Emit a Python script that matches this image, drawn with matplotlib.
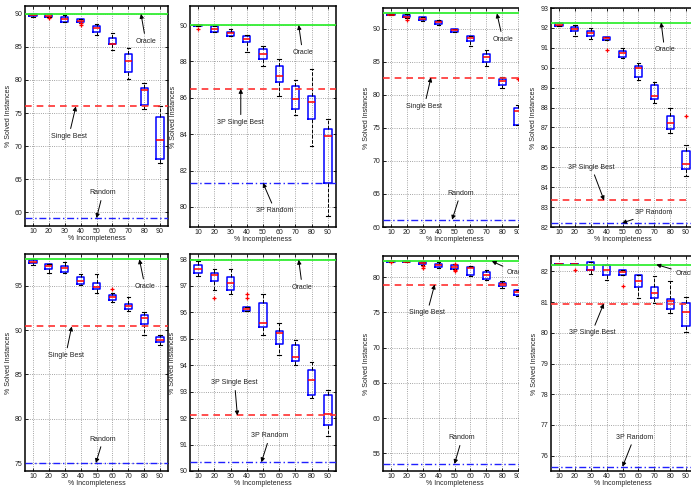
import matplotlib
matplotlib.use("Agg")
import matplotlib.pyplot as plt
from matplotlib.patches import Rectangle

plt.rcParams["font.family"] = ["Liberation Sans", "DejaVu Sans"]

# Size of the canvas in pixels
W, H = 691, 487
FONTSIZE = 5

INCOMPLETENESS = [10, 20, 30, 40, 50, 60, 70, 80, 90]

# Panel 1: full portfolio, first benchmark
p1_lo = [89.6, 89.5, 88.75, 88.7, 86.8, 84.55, 80.2, 75.6, 67.5]
p1_q1 = [89.7, 89.6, 88.85, 88.75, 87.3, 85.4, 81.2, 76.2, 68.0]
p1_med = [89.9, 89.7, 89.25, 88.9, 87.85, 85.5, 82.9, 78.5, 70.9]
p1_q3 = [90.05, 89.95, 89.6, 89.25, 88.2, 86.4, 83.95, 78.75, 74.4]
p1_hi = [90.05, 89.95, 89.8, 89.3, 88.55, 87.15, 84.8, 79.5, 76.0]
p1_fliers = [[], [89.35], [], [88.6, 88.35], [], [], [], [], []]
p1_oracle, p1_best, p1_random = 90.0, 76.0, 59.1

# Panel 2: 3P portfolio, first benchmark
p2_lo = [89.95, 89.6, 89.41, 88.5, 87.77, 86.1, 85.03, 83.38, 79.52]
p2_q1 = [89.95, 89.6, 89.41, 89.05, 88.12, 86.86, 85.39, 84.84, 81.31]
p2_med = [89.98, 89.76, 89.55, 89.23, 88.41, 87.2, 85.94, 85.76, 83.93]
p2_q3 = [90.0, 89.96, 89.62, 89.41, 88.68, 87.77, 86.67, 86.12, 84.3]
p2_hi = [90.0, 89.96, 89.8, 89.45, 88.85, 88.13, 87.0, 87.59, 84.84]
p2_fliers = [[89.76], [], [], [], [], [], [], [], []]
p2_oracle, p2_best, p2_random = 90.0, 86.49, 81.32

# Panel 3: full portfolio, second benchmark
p3_lo = [92.0, 91.6, 91.1, 90.5, 89.4, 87.37, 84.3, 81.07, 75.37]
p3_q1 = [92.0, 91.7, 91.36, 90.75, 89.5, 88.12, 84.95, 81.5, 75.37]
p3_med = [92.1, 91.8, 91.5, 90.95, 89.7, 88.5, 85.7, 82.07, 77.5]
p3_q3 = [92.2, 92.0, 91.7, 91.15, 89.9, 88.84, 86.2, 82.44, 78.05]
p3_hi = [92.25, 92.2, 91.8, 91.3, 90.0, 88.9, 86.7, 82.7, 78.5]
p3_fliers = [[], [91.35], [], [], [], [], [], [], [82.3]]
p3_oracle, p3_best, p3_random = 92.27, 82.59, 61.1

# Panel 4: 3P portfolio, second benchmark
p4_lo = [92.1, 91.6, 91.44, 91.4, 90.48, 89.39, 88.25, 86.7, 84.55]
p4_q1 = [92.1, 91.82, 91.57, 91.4, 90.56, 89.52, 88.43, 86.9, 84.89]
p4_med = [92.17, 91.96, 91.74, 91.47, 90.73, 89.98, 88.6, 87.24, 85.14]
p4_q3 = [92.24, 92.07, 91.86, 91.52, 90.85, 90.1, 89.14, 87.59, 85.83]
p4_hi = [92.24, 92.16, 92.0, 91.55, 90.98, 90.23, 89.3, 88.0, 86.11]
p4_fliers = [[], [], [], [90.9], [], [], [], [], [87.6]]
p4_oracle, p4_best, p4_random = 92.27, 83.34, 82.2

# Panel 5: full portfolio, third benchmark
p5_lo = [97.4, 96.43, 96.5, 95.1, 94.25, 93.16, 92.18, 89.48, 88.28]
p5_q1 = [97.56, 96.88, 96.54, 95.23, 94.63, 93.42, 92.4, 90.72, 88.65]
p5_med = [97.75, 97.3, 97.0, 95.5, 94.93, 93.73, 92.75, 91.36, 88.91]
p5_q3 = [97.93, 97.48, 97.25, 95.98, 95.3, 93.99, 92.97, 91.73, 89.18]
p5_hi = [98.0, 97.5, 97.75, 96.32, 96.3, 94.18, 93.8, 92.0, 89.48]
p5_fliers = [[], [], [], [], [], [94.66], [], [], []]
p5_oracle, p5_best, p5_random = 98.0, 90.42, 75.0

# Panel 6: 3P portfolio, third benchmark
p6_lo = [97.37, 96.84, 96.7, 96.05, 95.14, 94.38, 94.0, 92.76, 91.33]
p6_q1 = [97.47, 97.18, 96.84, 96.05, 95.44, 94.81, 94.15, 92.89, 91.75]
p6_med = [97.65, 97.41, 97.09, 96.13, 95.58, 95.2, 94.31, 93.45, 92.17]
p6_q3 = [97.79, 97.47, 97.34, 96.2, 96.36, 95.29, 94.78, 93.83, 92.89]
p6_hi = [97.94, 97.62, 97.65, 96.2, 96.67, 95.58, 94.95, 94.13, 93.05]
p6_fliers = [[], [96.55], [], [96.67, 96.52], [], [], [], [], []]
p6_oracle, p6_best, p6_random = 97.98, 92.1, 90.33

# Panel 7: full portfolio, fourth benchmark
p7_lo = [82.2, 82.1, 81.75, 81.3, 81.1, 80.18, 79.6, 78.48, 77.3]
p7_q1 = [82.2, 82.1, 81.84, 81.46, 81.22, 80.37, 79.8, 78.77, 77.45]
p7_med = [82.25, 82.17, 82.0, 81.7, 81.46, 81.3, 80.28, 78.98, 77.9]
p7_q3 = [82.3, 82.25, 82.17, 81.93, 81.7, 81.46, 80.75, 79.23, 78.15]
p7_hi = [82.3, 82.3, 82.25, 82.1, 81.8, 81.6, 81.0, 79.47, 78.2]
p7_fliers = [[82.2], [], [81.6, 81.36], [], [81.93, 81.0, 80.85], [], [], [], []]
p7_oracle, p7_best, p7_random = 82.27, 78.95, 53.5

# Panel 8: 3P portfolio, fourth benchmark
p8_lo = [82.23, 82.23, 81.9, 81.72, 81.88, 81.14, 80.96, 80.63, 80.04]
p8_q1 = [82.23, 82.23, 82.04, 81.88, 81.88, 81.5, 81.12, 80.77, 80.23]
p8_med = [82.23, 82.23, 82.04, 82.04, 81.97, 81.68, 81.3, 81.04, 80.67]
p8_q3 = [82.24, 82.24, 82.31, 82.2, 82.04, 81.88, 81.5, 81.1, 80.96]
p8_hi = [82.24, 82.24, 82.31, 82.2, 82.04, 81.88, 81.85, 81.68, 81.15]
p8_fliers = [[], [82.04], [], [], [81.52], [], [], [], []]
p8_oracle, p8_best, p8_random = 82.22, 80.95, 75.64


def rect(left, top, right, bottom):
    # Pixel box -> figure fraction
    return [left / W, 1 - bottom / H, (right - left) / W, (bottom - top) / H]


def draw_panel(ax, lo, q1, med, q3, hi, fliers, oracle, best, random,
               ylim, yticks, prefix, pos_oracle, pos_best, pos_random):
    positions = list(range(1, len(INCOMPLETENESS) + 1))
    stats = []
    for i in range(len(INCOMPLETENESS)):
        stats.append(dict(whislo=lo[i], q1=q1[i], med=med[i], q3=q3[i],
                          whishi=hi[i], fliers=fliers[i]))
    ax.bxp(
        stats,
        positions=positions,
        widths=0.45,
        capwidths=0.22,
        boxprops=dict(color="#0000ff", lw=1.1),
        medianprops=dict(color="#ff0000", lw=1.1),
        whiskerprops=dict(color="black", ls="--", lw=0.7),
        capprops=dict(color="black", lw=0.8),
        flierprops=dict(marker="+", markeredgecolor="#ff0000", ms=3.5, mew=0.9),
    )

    # Reference lines
    ax.axhline(oracle, color="#33ee33", lw=1.3, zorder=3)
    ax.axhline(best, color="#ff3030", lw=1.2, ls=(0, (4, 3)), zorder=3)
    ax.axhline(random, color="#2020ff", lw=1.0, ls=(0, (5, 2, 1, 2)), zorder=3)

    # Labels with arrows
    arrow = dict(arrowstyle="-|>", color="black", lw=0.7, mutation_scale=6,
                 shrinkA=1, shrinkB=0)
    text = dict(fontsize=FONTSIZE, ha="center", va="center", color="#222222")
    for label, value, (xt, yt, xh) in [
        ("Oracle", oracle, pos_oracle),
        (prefix + "Single Best", best, pos_best),
        (prefix + "Random", random, pos_random),
    ]:
        ax.annotate(label, xy=(xh, value), xytext=(xt, yt),
                    arrowprops=arrow, zorder=4, **text)

    ax.set_xlim(0.5, len(INCOMPLETENESS) + 0.5)
    ax.set_xticks(positions)
    ax.set_xticklabels([str(v) for v in INCOMPLETENESS])
    ax.set_ylim(*ylim)
    ax.set_yticks(yticks)
    ax.grid(True, ls=":", color="#888888", lw=0.6)
    ax.set_axisbelow(True)
    ax.tick_params(direction="in", top=True, right=True, length=2.5,
                   width=0.6, labelsize=FONTSIZE, labelcolor="#222222")
    ax.tick_params(axis="x", pad=1.2)
    ax.tick_params(axis="y", pad=2)
    for spine in ax.spines.values():
        spine.set_linewidth(1.1)
    ax.set_xlabel("% Incompleteness", fontsize=FONTSIZE, labelpad=0.5,
                  color="#222222")
    ax.set_ylabel("% Solved Instances", fontsize=FONTSIZE, labelpad=2,
                  color="#222222")


def main():
    fig = plt.figure(figsize=(W / 100, H / 100), dpi=100)

    ax1 = fig.add_axes(rect(25, 6, 168, 226))
    ax2 = fig.add_axes(rect(190, 6, 336, 227))
    ax3 = fig.add_axes(rect(383, 8, 526, 227))
    ax4 = fig.add_axes(rect(551, 8, 694, 227), zorder=1)
    ax5 = fig.add_axes(rect(25, 254, 168, 471))
    ax6 = fig.add_axes(rect(190, 254, 336, 471))
    ax7 = fig.add_axes(rect(383, 256, 526, 471))
    ax8 = fig.add_axes(rect(551, 256, 694, 471), zorder=1)

    # The right-most column overlaps the third one
    fig.add_artist(Rectangle((519 / W, 0), 1, 1, transform=fig.transFigure,
                             facecolor="white", edgecolor="none", zorder=0.5))

    draw_panel(ax1, p1_lo, p1_q1, p1_med, p1_q3, p1_hi, p1_fliers,
               p1_oracle, p1_best, p1_random,
               (57.9, 91.2), range(60, 91, 5), "",
               (8.1, 85.9, 7.8), (3.26, 71.5, 3.7), (5.4, 62.9, 5.0))
    draw_panel(ax2, p2_lo, p2_q1, p2_med, p2_q3, p2_hi, p2_fliers,
               p2_oracle, p2_best, p2_random,
               (78.9, 91.05), range(80, 91, 2), "3P ",
               (7.44, 88.5, 7.2), (3.63, 84.66, 3.63), (5.74, 79.8, 5.0))
    draw_panel(ax3, p3_lo, p3_q1, p3_med, p3_q3, p3_hi, p3_fliers,
               p3_oracle, p3_best, p3_random,
               (60, 93.1), range(60, 91, 5), "",
               (8.03, 88.4, 7.67), (3.1, 78.25, 3.52), (5.38, 65.1, 4.85))
    draw_panel(ax4, p4_lo, p4_q1, p4_med, p4_q3, p4_hi, p4_fliers,
               p4_oracle, p4_best, p4_random,
               (82, 93), range(82, 94, 1), "3P ",
               (7.65, 90.9, 7.43), (3.05, 85.0, 3.84), (6.96, 82.72, 4.97))
    draw_panel(ax5, p5_lo, p5_q1, p5_med, p5_q3, p5_hi, p5_fliers,
               p5_oracle, p5_best, p5_random,
               (74.1, 98.6), range(75, 96, 5), "",
               (8.05, 94.93, 7.7), (3.06, 87.15, 3.44), (5.42, 77.7, 4.96))
    draw_panel(ax6, p6_lo, p6_q1, p6_med, p6_q3, p6_hi, p6_fliers,
               p6_oracle, p6_best, p6_random,
               (90, 98.2), range(90, 99, 1), "3P ",
               (7.42, 96.95, 7.2), (3.25, 93.33, 3.42), (5.42, 91.33, 4.9))
    draw_panel(ax7, p7_lo, p7_q1, p7_med, p7_q3, p7_hi, p7_fliers,
               p7_oracle, p7_best, p7_random,
               (52.5, 83.0), range(55, 81, 5), "",
               (8.95, 80.6, 7.35), (3.28, 74.94, 3.75), (5.48, 57.2, 5.0))
    draw_panel(ax8, p8_lo, p8_q1, p8_med, p8_q3, p8_hi, p8_fliers,
               p8_oracle, p8_best, p8_random,
               (75.5, 82.5), range(76, 83, 1), "3P ",
               (8.98, 81.94, 7.13), (3.07, 80.0, 3.82), (5.74, 76.6, 5.0))

    fig.savefig("out.png", dpi=100, facecolor="white")
    plt.close(fig)


if __name__ == "__main__":
    main()
